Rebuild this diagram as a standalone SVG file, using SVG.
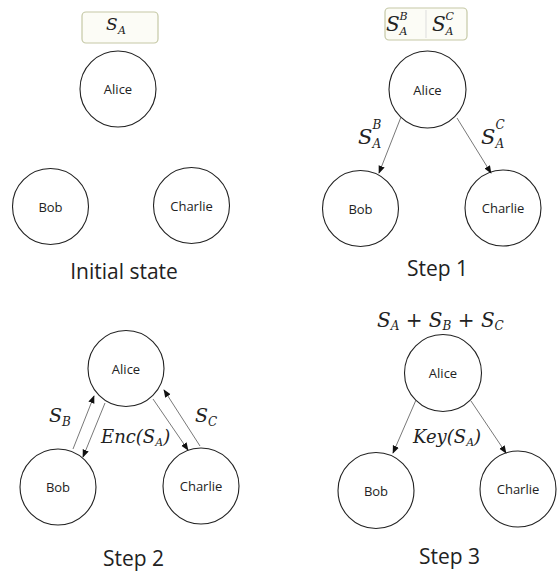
<svg xmlns="http://www.w3.org/2000/svg" width="558" height="573" viewBox="0 0 558 573">
<style>
.node circle{fill:#fff;stroke:#222;stroke-width:1.1}
.node text{font-family:"Open Sans","Noto Sans",sans-serif;font-size:13px;fill:#222;text-anchor:middle}
.title{font-family:"Open Sans","Noto Sans",sans-serif;font-size:21px;fill:#222;text-anchor:middle}
.m{font-family:"DejaVu Serif","Liberation Serif",serif;font-style:italic;fill:#222}
.box{fill:#fcfcf6;stroke:#c5c8a6;stroke-width:1.2}
.edge{stroke:#555;stroke-width:0.8;fill:none;marker-end:url(#ah)}
</style>
<defs>
<marker id="ah" viewBox="0 0 10 10" refX="9" refY="5" markerWidth="8" markerHeight="8" markerUnits="userSpaceOnUse" orient="auto">
<path d="M0,1 L10,5 L0,9 z" fill="#111"/>
</marker>
</defs>
<rect width="558" height="573" fill="#fff"/>

<!-- Panel 1: Initial state -->
<g id="p1-key">
<rect class="box" x="82" y="12" width="76" height="31" rx="4"/>
<text class="m" x="106" y="30" font-size="17">S</text>
<text class="m" x="118" y="34" font-size="11">A</text>
</g>
<g id="p1-alice" class="node"><circle cx="118" cy="89" r="38"/><text x="118" y="94">Alice</text></g>
<g id="p1-bob" class="node"><circle cx="50.5" cy="206.5" r="38"/><text x="50.5" y="211.5">Bob</text></g>
<g id="p1-charlie" class="node"><circle cx="191.5" cy="205.5" r="38"/><text x="191.5" y="210.5">Charlie</text></g>
<text class="title" x="124" y="279">Initial state</text>

<!-- Panel 2: Step 1 -->
<g id="p2-keys">
<rect class="box" x="385" y="8" width="82" height="32" rx="4"/>
<line x1="426" y1="10" x2="426" y2="38" stroke="#ddd" stroke-width="1"/>
<text class="m" x="386" y="31" font-size="20">S</text>
<text class="m" x="399.5" y="19.5" font-size="11">B</text>
<text class="m" x="399.5" y="34.5" font-size="11">A</text>
<text class="m" x="432" y="31" font-size="20">S</text>
<text class="m" x="445.5" y="19.5" font-size="11">C</text>
<text class="m" x="445.5" y="34.5" font-size="11">A</text>
</g>
<g id="p2-alice" class="node"><circle cx="427.5" cy="89.5" r="38.5"/><text x="427.5" y="94.5">Alice</text></g>
<g id="p2-bob" class="node"><circle cx="360.5" cy="208.5" r="38"/><text x="360.5" y="213.5">Bob</text></g>
<g id="p2-charlie" class="node"><circle cx="503" cy="208" r="38"/><text x="503" y="213">Charlie</text></g>
<g id="p2-edges">
<line class="edge" x1="401" y1="117" x2="379" y2="173"/>
<line class="edge" x1="457" y1="118" x2="491" y2="173"/>
</g>
<g id="p2-labels">
<text class="m" x="358" y="144" font-size="21">S</text>
<text class="m" x="372.5" y="129" font-size="12">B</text>
<text class="m" x="372.5" y="148" font-size="12">A</text>
<text class="m" x="481" y="144" font-size="21">S</text>
<text class="m" x="495.5" y="129" font-size="12">C</text>
<text class="m" x="495.5" y="148" font-size="12">A</text>
</g>
<text class="title" x="437.5" y="276">Step 1</text>

<!-- Panel 3: Step 2 -->
<g id="p3-alice" class="node"><circle cx="126" cy="368.5" r="38"/><text x="126" y="373.5">Alice</text></g>
<g id="p3-bob" class="node"><circle cx="58" cy="487" r="38"/><text x="58" y="492">Bob</text></g>
<g id="p3-charlie" class="node"><circle cx="201" cy="486" r="38"/><text x="201" y="491">Charlie</text></g>
<g id="p3-edges">
<line class="edge" x1="73" y1="449" x2="94" y2="396"/>
<line class="edge" x1="105" y1="403" x2="83" y2="457"/>
<line class="edge" x1="153" y1="399" x2="188" y2="450"/>
<line class="edge" x1="200" y1="446" x2="164" y2="390"/>
</g>
<g id="p3-labels">
<text class="m" x="49" y="422" font-size="19">S</text>
<text class="m" x="62" y="426" font-size="12">B</text>
<text class="m" x="101" y="443" font-size="18">Enc(S<tspan font-size="11" dy="3">A</tspan><tspan dy="-3">)</tspan></text>
<text class="m" x="195" y="422" font-size="19">S</text>
<text class="m" x="208" y="426" font-size="12">C</text>
</g>
<text class="title" x="133.5" y="566">Step 2</text>

<!-- Panel 4: Step 3 -->
<g id="p4-sum">
<text class="m" x="377" y="327" font-size="20">S<tspan font-size="12" dy="3">A</tspan><tspan dy="-3" font-style="normal"> + </tspan>S<tspan font-size="12" dy="3">B</tspan><tspan dy="-3" font-style="normal"> + </tspan>S<tspan font-size="12" dy="3">C</tspan></text>
</g>
<g id="p4-alice" class="node"><circle cx="443" cy="373" r="38.5"/><text x="443" y="378">Alice</text></g>
<g id="p4-bob" class="node"><circle cx="376" cy="490.5" r="38"/><text x="376" y="495.5">Bob</text></g>
<g id="p4-charlie" class="node"><circle cx="518" cy="489" r="38"/><text x="518" y="494">Charlie</text></g>
<g id="p4-edges">
<line class="edge" x1="416" y1="400" x2="393" y2="453"/>
<line class="edge" x1="471" y1="401" x2="506" y2="453"/>
</g>
<text class="m" x="413" y="443" font-size="18">Key(S<tspan font-size="11" dy="3">A</tspan><tspan dy="-3">)</tspan></text>
<text class="title" x="449.5" y="564">Step 3</text>
</svg>
